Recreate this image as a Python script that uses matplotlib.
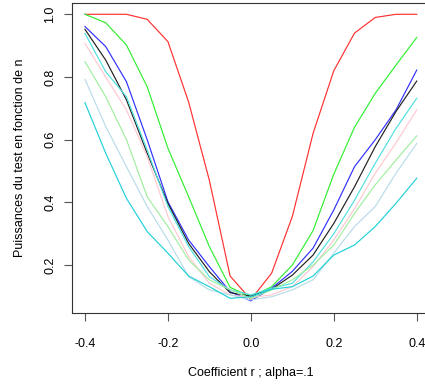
import numpy as np
import matplotlib
matplotlib.use("Agg")
import matplotlib.pyplot as plt

plt.rcParams["font.family"] = ["Liberation Sans", "DejaVu Sans"]

# coefficient r grid
r = [-0.4, -0.35, -0.3, -0.25, -0.2, -0.15, -0.1, -0.05, 0.0,
     0.05, 0.1, 0.15, 0.2, 0.25, 0.3, 0.35, 0.4]

# power curves, one per sample size
p_red = [1.0, 1.0, 1.0, 0.984, 0.913, 0.72, 0.47, 0.165, 0.09,
         0.174, 0.355, 0.62, 0.82, 0.94, 0.99, 1.0, 1.0]
p_green = [1.0, 0.973, 0.902, 0.769, 0.573, 0.418, 0.259, 0.129, 0.099,
           0.131, 0.20, 0.31, 0.49, 0.64, 0.748, 0.838, 0.926]
p_blue = [0.961, 0.897, 0.785, 0.60, 0.402, 0.28, 0.195, 0.115, 0.086,
          0.126, 0.18, 0.254, 0.376, 0.514, 0.60, 0.695, 0.822]
p_black = [0.952, 0.854, 0.727, 0.557, 0.397, 0.269, 0.179, 0.112, 0.101,
           0.123, 0.168, 0.232, 0.333, 0.45, 0.578, 0.69, 0.787]
p_turq = [0.939, 0.817, 0.737, 0.567, 0.387, 0.259, 0.163, 0.121, 0.105,
          0.126, 0.142, 0.21, 0.30, 0.407, 0.525, 0.636, 0.732]
p_pink = [0.907, 0.80, 0.695, 0.546, 0.355, 0.227, 0.142, 0.105, 0.096,
          0.105, 0.131, 0.195, 0.28, 0.38, 0.493, 0.59, 0.695]
p_lgreen = [0.849, 0.737, 0.60, 0.418, 0.323, 0.216, 0.153, 0.121, 0.094,
            0.121, 0.153, 0.20, 0.264, 0.365, 0.456, 0.535, 0.612]
p_lblue = [0.793, 0.642, 0.514, 0.387, 0.28, 0.163, 0.121, 0.105, 0.089,
           0.099, 0.121, 0.153, 0.238, 0.323, 0.387, 0.493, 0.588]
p_dturq = [0.718, 0.557, 0.413, 0.307, 0.238, 0.165, 0.131, 0.094, 0.099,
           0.123, 0.131, 0.165, 0.232, 0.264, 0.323, 0.397, 0.477]

series = [
    (p_red, "#ff3030"),
    (p_green, "#30ee30"),
    (p_blue, "#3030ff"),
    (p_black, "#202020"),
    (p_turq, "#50e0e0"),
    (p_pink, "#ffc8d0"),
    (p_lgreen, "#a0eea0"),
    (p_lblue, "#b8dcea"),
    (p_dturq, "#20d0d8"),
]

fig = plt.figure(figsize=(4.25, 3.85), dpi=100)
ax = fig.add_axes([71.7 / 425, 1 - 313 / 385, (430 - 71.7) / 425, (313 - 2.7) / 385])

for vals, col in series:
    ax.plot(r, vals, color=col, lw=0.85)

ax.set_xlim(-0.432, 0.432)
ax.set_ylim(0.0472, 1.037)
ax.set_xticks([-0.4, -0.2, 0.0, 0.2, 0.4])
ax.set_xticklabels(["-0.4", "-0.2", "0.0", "0.2", "0.4"])
ax.set_yticks([0.2, 0.4, 0.6, 0.8, 1.0])
ax.set_yticklabels(["0.2", "0.4", "0.6", "0.8", "1.0"], rotation=90, va="center")

for s in ax.spines.values():
    s.set_color("#333333")
    s.set_linewidth(0.8)
ax.tick_params(direction="out", length=6, width=0.8, color="#555555", labelsize=9)
ax.tick_params(axis="x", pad=12)
ax.tick_params(axis="y", pad=5)

ax.set_xlabel("Coefficient r ; alpha=.1", fontsize=9, labelpad=12)
ax.set_ylabel("Puissances du test en fonction de n", fontsize=9, labelpad=13)

fig.savefig("out.png", dpi=100)
